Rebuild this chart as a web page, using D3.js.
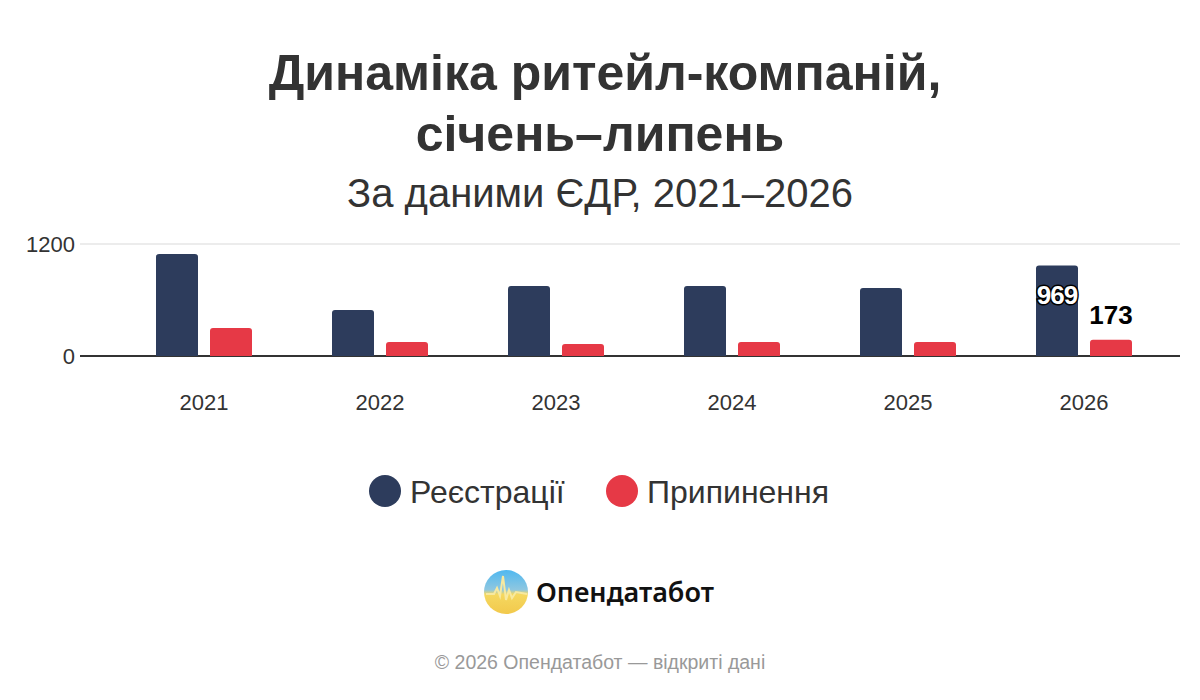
<!DOCTYPE html>
<html><head><meta charset="utf-8">
<script src="https://cdn.jsdelivr.net/npm/d3@7"></script>
<style>body{margin:0;background:#fff;font-family:"Liberation Sans",Arial,sans-serif}</style>
</head><body><svg id="c" width="1200" height="700"></svg>
<script>
const years=["2021","2022","2023","2024","2025","2026"];
const registrations=[1093,493,750,750,729,969];
const terminations=[300,150,129,150,150,173];
const yTicks=[0,1200];
const svg=d3.select("#c");
const F='"Liberation Sans",Arial,sans-serif';
svg.append("rect").attr("width",1200).attr("height",700).attr("fill","#fff");
svg.append("text").attr("x",605).attr("y",90).attr("text-anchor","middle").attr("font-size",50).attr("font-weight","bold").attr("fill","#333").attr("font-family",F).text("Динаміка ритейл-компаній,");
svg.append("text").attr("x",600).attr("y",151).attr("text-anchor","middle").attr("font-size",50).attr("font-weight","bold").attr("fill","#333").attr("font-family",F).text("січень–липень");
svg.append("text").attr("x",600).attr("y",207).attr("text-anchor","middle").attr("font-size",40).attr("fill","#333").attr("font-family",F).text("За даними ЄДР, 2021–2026");
const x=d3.scaleBand().domain(years).range([116,1172]);
const y=d3.scaleLinear().domain([0,1200]).range([356,244]);
yTicks.forEach(t=>{
  svg.append("line").attr("x1",80).attr("x2",1180).attr("y1",y(t)).attr("y2",y(t)).attr("stroke",t===0?"#333":"#e6e6e6").attr("stroke-width",t===0?2:1.5);
  svg.append("text").attr("x",75).attr("y",y(t)+8).attr("text-anchor","end").attr("font-size",22).attr("fill","#333").attr("font-family",F).text(t);
});
const bw=42,gap=12;
years.forEach((yr,i)=>{
  const c=x(yr)+x.bandwidth()/2;
  svg.append("path").attr("d",bar(c-gap/2-bw,registrations[i])).attr("fill","#2d3c5c");
  svg.append("path").attr("d",bar(c+gap/2,terminations[i])).attr("fill","#e63946");
  svg.append("text").attr("x",c).attr("y",410).attr("text-anchor","middle").attr("font-size",22).attr("fill","#333").attr("font-family",F).text(yr);
});
function bar(x0,v){const t=y(v),b=y(0),r=3;return `M${x0},${b}V${t+r}Q${x0},${t} ${x0+r},${t}H${x0+bw-r}Q${x0+bw},${t} ${x0+bw},${t+r}V${b}Z`;}
const li=years.length-1, cl=x(years[li])+x.bandwidth()/2;
svg.append("text").attr("x",cl-gap/2-bw/2).attr("y",y(registrations[li])+38).attr("text-anchor","middle").attr("font-size",26).attr("font-weight","bold").attr("fill","#fff").attr("stroke","#000").attr("stroke-width",3).attr("paint-order","stroke").attr("font-family",F).attr("letter-spacing",-1).text(registrations[li]);
svg.append("text").attr("x",cl+gap/2+bw/2).attr("y",y(terminations[li])-16).attr("text-anchor","middle").attr("font-size",26).attr("font-weight","bold").attr("fill","#000").attr("font-family",F).text(terminations[li]);
[["Реєстрації","#2d3c5c",369],["Припинення","#e63946",606]].forEach(([t,c,lx])=>{
  svg.append("circle").attr("cx",lx+16).attr("cy",491).attr("r",16).attr("fill",c);
  svg.append("text").attr("x",lx+41).attr("y",503).attr("font-size",32).attr("fill","#333").attr("font-family",F).text(t);
});
const defs=svg.append("defs");
const g=defs.append("linearGradient").attr("id","lg").attr("x1",0).attr("y1",0).attr("x2",0).attr("y2",1);
g.append("stop").attr("offset","0").attr("stop-color","#4fb8f0");
g.append("stop").attr("offset","0.45").attr("stop-color","#8fc7e0");
g.append("stop").attr("offset","0.55").attr("stop-color","#f5d860");
g.append("stop").attr("offset","1").attr("stop-color","#f2c94c");
svg.append("circle").attr("cx",506).attr("cy",592).attr("r",22).attr("fill","url(#lg)");
svg.append("path").attr("d","M486,594 L494,594 L497,588 L500,596 L503,576 L506,600 L509,590 L512,598 L516,592 L527,594").attr("fill","none").attr("stroke","#f7e9a0").attr("stroke-width",2);
svg.append("text").attr("x",536).attr("y",602).attr("font-size",27).attr("font-weight",600).attr("fill","#111").attr("font-family",'"Noto Sans",sans-serif').text("Опендатабот");
svg.append("text").attr("x",600).attr("y",669).attr("text-anchor","middle").attr("font-size",19.5).attr("fill","#999").attr("font-family",F).text("© 2026 Опендатабот — відкриті дані");
</script></body></html>
